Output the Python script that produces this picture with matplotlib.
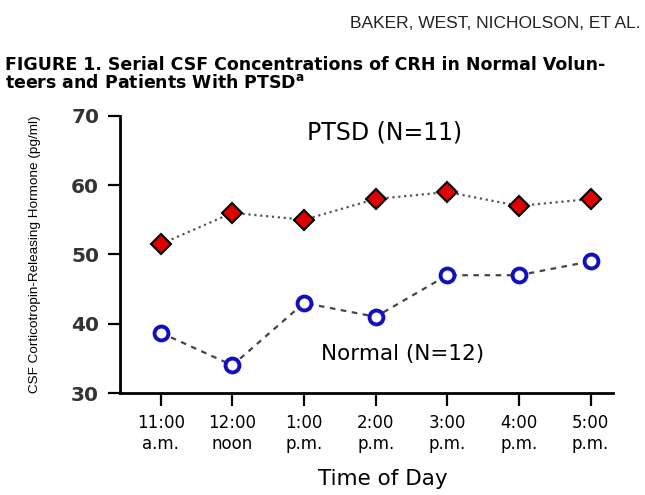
import matplotlib
matplotlib.use('Agg')
import matplotlib.pyplot as plt

# values (pg/ml)
times = ['11:00\na.m.', '12:00\nnoon', '1:00\np.m.', '2:00\np.m.',
         '3:00\np.m.', '4:00\np.m.', '5:00\np.m.']
ptsd = [51.5, 56, 55, 58, 59, 57, 58]
normal = [38.7, 34, 43, 41, 47, 47, 49]
yticks = [30, 40, 50, 60, 70]

plt.rcParams['font.family'] = ['DejaVu Sans']
ARIAL = ['Liberation Sans', 'DejaVu Sans']
NARROW = ['Liberation Sans Narrow', 'Liberation Sans', 'DejaVu Sans']


def main():
    fig = plt.figure(figsize=(6.45, 4.95), dpi=100)
    ax = fig.add_axes([0.186, 0.206, 0.764, 0.560])
    x = list(range(len(times)))

    ax.plot(x, ptsd, linestyle=':', color='#555555', linewidth=1.6,
            marker='D', markersize=10, markerfacecolor='#e00000',
            markeredgecolor='black', markeredgewidth=1.5)
    ax.plot(x, normal, linestyle='--', dashes=(2.5, 2.5), color='#444444',
            linewidth=1.6, marker='o', markersize=10, markerfacecolor='white',
            markeredgecolor='#1010c0', markeredgewidth=2.8)

    ax.set_xlim(-0.57, 6.31)
    ax.set_ylim(30, 70)
    ax.set_xticks(x)
    ax.set_xticklabels(times, fontsize=12, linespacing=1.2)
    ax.set_yticks(yticks)
    ax.set_yticklabels([str(v) for v in yticks], fontsize=14.5, fontweight='bold',
                       color='#333333')
    for side in ['top', 'right']:
        ax.spines[side].set_visible(False)
    for side in ['left', 'bottom']:
        ax.spines[side].set_linewidth(2)
    ax.tick_params(axis='both', direction='out', length=9, width=1.6)
    ax.tick_params(axis='x', pad=6)
    ax.tick_params(axis='y', pad=6)

    ax.set_ylabel('CSF Corticotropin-Releasing Hormone (pg/ml)', fontsize=9.7,
                  family=NARROW, labelpad=22)
    ax.set_xlabel('Time of Day', fontsize=15.5, labelpad=14)
    ax.xaxis.set_label_coords(0.533, -0.275)

    ax.text(3.13, 67.6, 'PTSD (N=11)', fontsize=17, ha='center', va='center')
    ax.text(3.37, 35.7, 'Normal (N=12)', fontsize=15.5, ha='center', va='center')

    fig.text(0.993, 0.952, 'BAKER, WEST, NICHOLSON, ET AL.', fontsize=12.5,
             family=ARIAL, ha='right', va='center', color='#222222')
    fig.text(0.008, 0.869, 'FIGURE 1. Serial CSF Concentrations of CRH in Normal Volun-',
             fontsize=12.5, fontweight='bold', ha='left', va='center')
    fig.text(0.008, 0.832, 'teers and Patients With PTSD$^{\\mathbf{a}}$',
             fontsize=12.5, fontweight='bold', ha='left', va='center')

    fig.savefig('out.png', dpi=100)


if __name__ == '__main__':
    main()
